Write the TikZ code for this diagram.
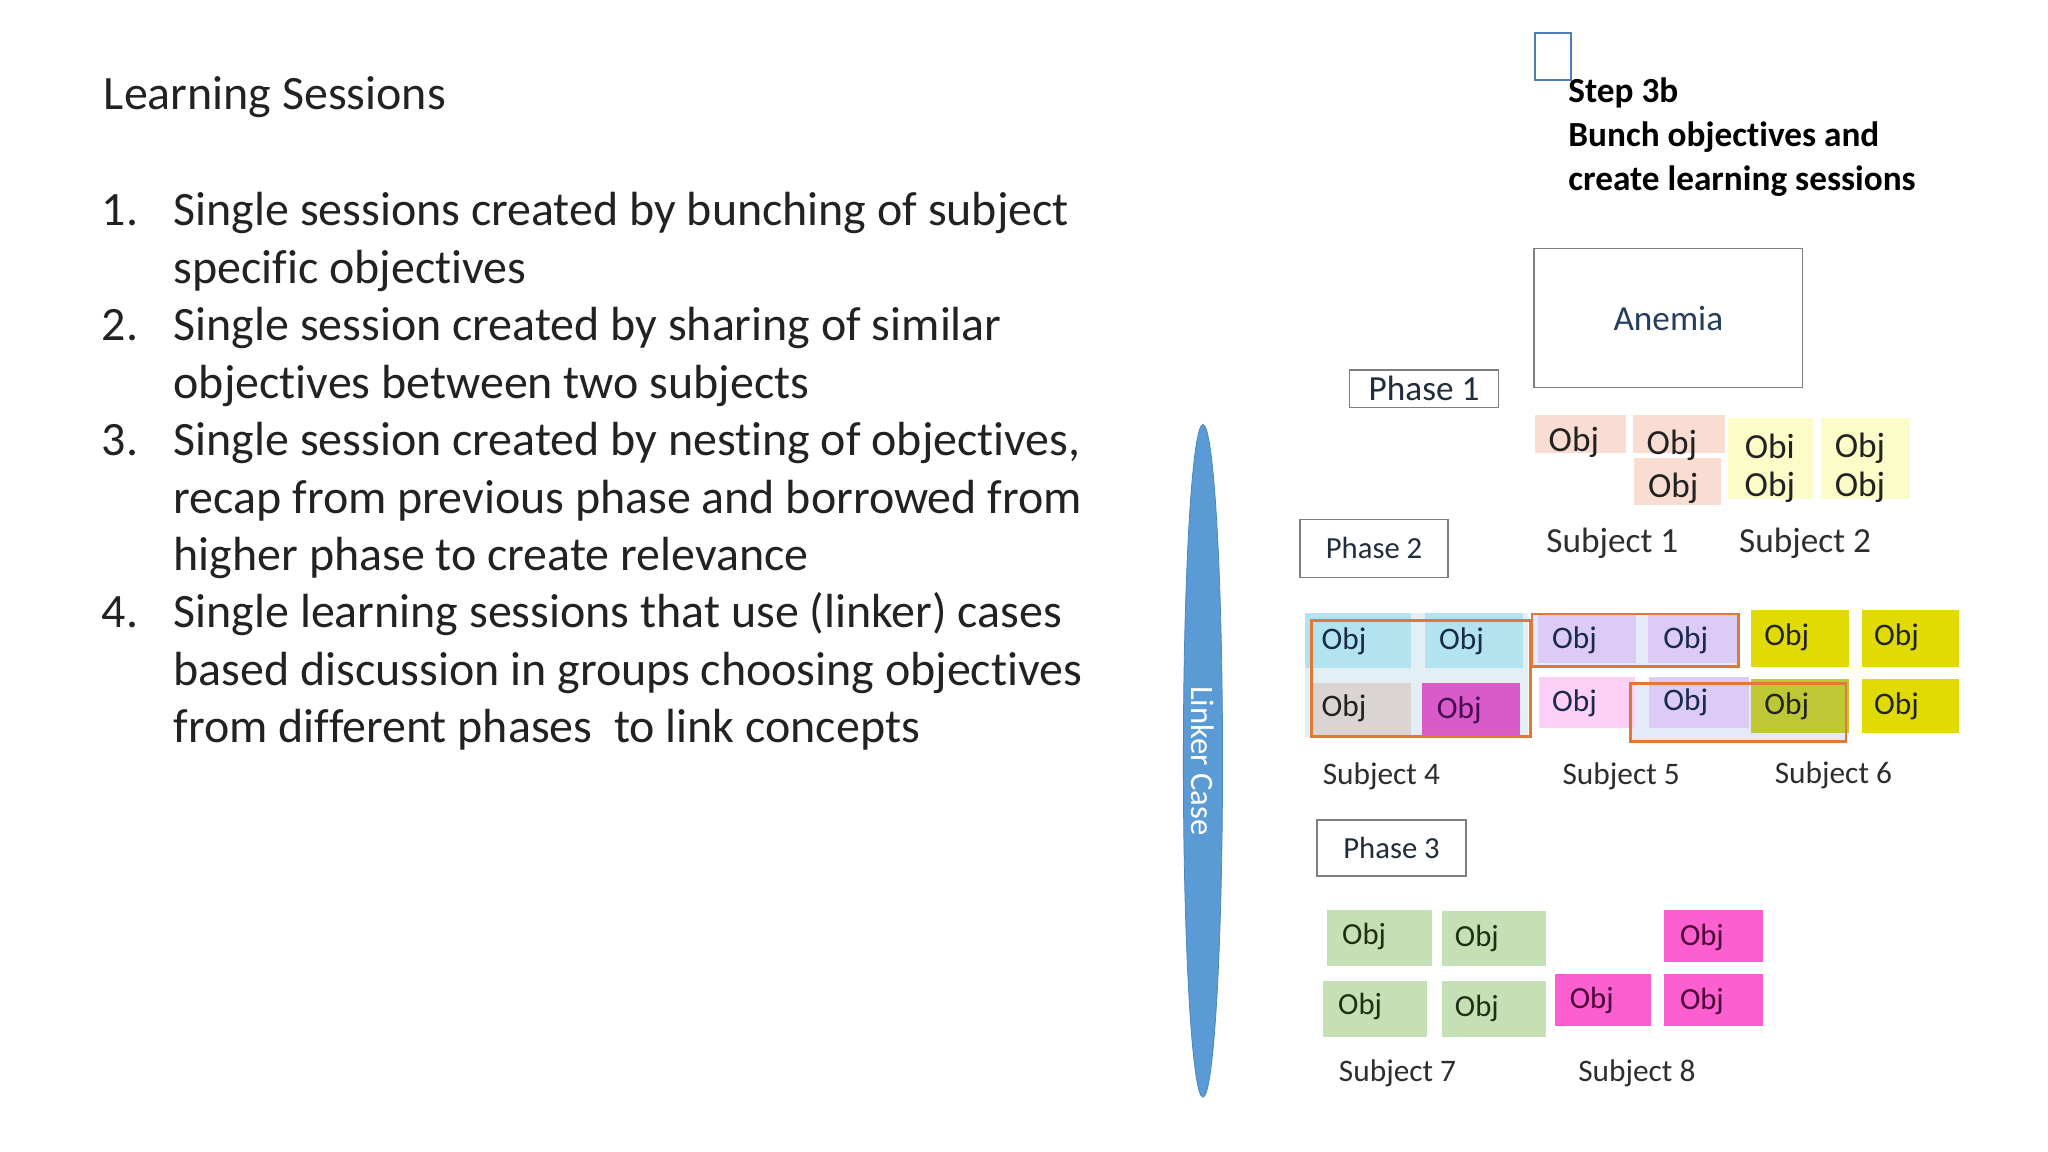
\documentclass[tikz,border=0pt]{standalone}
\usepackage{fontspec}
\setmainfont[Ligatures={TeX,NoCommon}]{Carlito}
\usetikzlibrary{shapes.geometric,fit}
\definecolor{maintext}{HTML}{222222}
\definecolor{labeltext}{HTML}{2E2E2E}
\definecolor{phasetext}{HTML}{1F2D3D}
\definecolor{anemiatext}{HTML}{263D5C}
\definecolor{boxgray}{HTML}{7F7F7F}
\definecolor{sqblue}{HTML}{4F7DB5}
\definecolor{peach}{HTML}{FADDD2}
\definecolor{lyellow}{HTML}{FCFCC8}
\definecolor{cyancell}{HTML}{B2E3EE}
\definecolor{graycell}{HTML}{DAD5D3}
\definecolor{magcell}{HTML}{D95BC9}
\definecolor{lavcell}{HTML}{DCCBF5}
\definecolor{pinkcell}{HTML}{FDD0F7}
\definecolor{yelcell}{HTML}{E0DB05}
\definecolor{olivecell}{HTML}{BDC834}
\definecolor{greencell}{HTML}{C5E0B4}
\definecolor{hotpink}{HTML}{FC5FD0}
\definecolor{orangeline}{HTML}{E07838}
\definecolor{paleblue}{HTML}{E2F0F6}
\definecolor{palelav}{HTML}{E6EAF8}
\definecolor{linkerblue}{HTML}{5B9BD5}
\definecolor{linkeredge}{HTML}{4A86C0}
\definecolor{navytext}{HTML}{1A2A4A}
\definecolor{purpletext}{HTML}{4A0A50}
\definecolor{darkgreen}{HTML}{1F2F14}
\definecolor{pinktext}{HTML}{4A0034}
\tikzset{
  txt/.style={inner sep=0pt, outer sep=0pt},
  titletxt/.style={txt, anchor=base west, font=\fontsize{36.7}{44}\selectfont, text=maintext},
  listtxt/.style={txt, anchor=base west, font=\fontsize{36.7}{44}\selectfont, text=maintext},
  steptxt/.style={txt, anchor=base west, font=\fontsize{27}{33}\selectfont\bfseries, text=black},
  phasebox/.style={draw=boxgray, line width=1.1pt, fill=white, inner sep=0pt, text=phasetext},
  cell/.style={inner sep=0pt, outer sep=0pt, draw=none},
  objone/.style={txt, font=\fontsize{27}{30}\selectfont, text=maintext},
  objtwo/.style={txt, font=\fontsize{24}{28}\selectfont},
  objthree/.style={txt, font=\fontsize{23.5}{28}\selectfont},
  subjone/.style={txt, font=\fontsize{27}{30}\selectfont, text=labeltext},
  subjtwo/.style={txt, font=\fontsize{24}{28}\selectfont, text=labeltext},
  session/.style={draw=orangeline, line width=2.4pt, inner sep=0pt, fill=none},
}
\newcommand\cellbox[6]{\node[cell, fill=#6, fit={(#2,#3) (#4,#5)}] (#1) {};}
\begin{document}
\begin{tikzpicture}[x=1pt,y=-1pt]
\useasboundingbox (0,0) rectangle (1568,882);
\fill[white] (0,0) rectangle (1568,882);

% ---------- left text ----------
\node[titletxt] (title) at (79.6,84.2) {Learning Sessions};
\node[listtxt] (n1) at (78,172.8) {1.};
\node[listtxt] (l1a) at (133,172.8) {Single sessions created by bunching of subject};
\node[listtxt] (l1b) at (133,216.8) {specific objectives};
\node[listtxt] (n2) at (78,260.8) {2.};
\node[listtxt] (l2a) at (133,260.8) {Single session created by sharing of similar};
\node[listtxt] (l2b) at (133,304.8) {objectives between two subjects};
\node[listtxt] (n3) at (78,348.8) {3.};
\node[listtxt] (l3a) at (133,348.8) {Single session created by nesting of objectives,};
\node[listtxt] (l3b) at (133,392.8) {recap from previous phase and borrowed from};
\node[listtxt] (l3c) at (133,436.8) {higher phase to create relevance};
\node[listtxt] (n4) at (78,480.8) {4.};
\node[listtxt] (l4a) at (133,480.8) {Single learning sessions that use (linker) cases};
\node[listtxt] (l4b) at (133,524.8) {based discussion in groups choosing objectives};
\node[listtxt] (l4c) at (133,568.8) {from different phases\ \ to link concepts};

% ---------- step header ----------
\node[draw=sqblue, line width=1.3pt, inner sep=0pt, fit={(1175.3,25.5) (1202.7,61.3)}] (sq) {};
\node[steptxt] (s1) at (1200.8,78.6) {Step 3b};
\node[steptxt] (s2) at (1200.8,112.3) {Bunch objectives and};
\node[steptxt] (s3) at (1200.8,146) {create learning sessions};

% ---------- linker case ----------
\node[ellipse, fill=linkerblue, draw=linkeredge, line width=0.6pt, minimum width=515pt, minimum height=30pt, inner sep=0pt, rotate=-90, text=white, font=\fontsize{25}{28}\selectfont] (linker) at (921,582.5) {Linker Case};

% ---------- boxes ----------
\node[draw=boxgray, line width=1.1pt, fill=white, minimum width=205.4pt, minimum height=106.7pt, inner sep=0pt, text=anemiatext, font=\fontsize{27}{30}\selectfont] (anemia) at (1277.3,243.5) {Anemia};
\node[phasebox, minimum width=114.3pt, minimum height=28.8pt, font=\fontsize{27}{30}\selectfont] (ph1) at (1090.3,297.7) {Phase 1};
\node[phasebox, minimum width=113.1pt, minimum height=44.3pt, font=\fontsize{23.5}{28}\selectfont] (ph2) at (1052,419.9) {Phase 2};
\node[phasebox, minimum width=114.3pt, minimum height=42.8pt, font=\fontsize{23.5}{28}\selectfont] (ph3) at (1065.4,649.3) {Phase 3};

% ---------- phase 1 objectives ----------
\cellbox{a1}{1175}{318}{1245}{347}{peach}
\cellbox{a2}{1250}{318}{1321}{347}{peach}
\cellbox{a3}{1251}{351}{1318}{387}{peach}
\cellbox{b1}{1323}{320}{1388}{357}{lyellow}
\cellbox{b2}{1394}{320}{1462}{357}{lyellow}
\cellbox{b3}{1323}{357}{1388}{382}{lyellow}
\cellbox{b4}{1394}{357}{1462}{382}{lyellow}
\node[objone] (a1t) at (1205,339) {Obj};
\node[objone] (a2t) at (1280,341) {Obj};
\node[objone] (a3t) at (1281,374) {Obj};
\node[objone] (b1t) at (1355,342) {Obi};
\node[objone] (b2t) at (1424,343) {Obj};
\node[objone] (b3t) at (1355,373) {Obj};
\node[objone] (b4t) at (1424,373) {Obj};
\node[subjone] (sub1) at (1234.4,416) {Subject 1};
\node[subjone] (sub2) at (1382,416) {Subject 2};

% ---------- phase 2 objectives ----------
\fill[paleblue] (999.5,469) rectangle (1170,564);
\fill[palelav] (1173,470) rectangle (1331,511);
\fill[palelav] (1248.5,523) rectangle (1413,568);
\cellbox{c1}{999.5}{469.1}{1080.5}{511.7}{cyancell}
\cellbox{c2}{1090.9}{469.1}{1166.4}{511.7}{cyancell}
\cellbox{c3}{1004}{523.2}{1080.5}{562.8}{graycell}
\cellbox{c4}{1088.8}{523.2}{1163.6}{562.8}{magcell}
\cellbox{d1}{1177.4}{470.9}{1252.9}{507.9}{lavcell}
\cellbox{d2}{1261.5}{470.9}{1330.2}{507.9}{lavcell}
\cellbox{d3}{1178}{518.1}{1251.5}{557.7}{pinkcell}
\cellbox{d4}{1262.6}{518.1}{1338.7}{557.7}{lavcell}
\cellbox{e1}{1340.5}{467}{1416}{510.5}{yelcell}
\cellbox{e2}{1425.3}{467}{1500.2}{510.5}{yelcell}
\cellbox{e3}{1340.5}{519.9}{1416}{561.5}{olivecell}
\cellbox{e4}{1425.3}{519.9}{1500.2}{561.5}{yelcell}
\node[objtwo, text=navytext] (c1t) at (1029,491) {Obj};
\node[objtwo, text=navytext] (c2t) at (1119,491) {Obj};
\node[objtwo, text=maintext] (c3t) at (1029,542) {Obj};
\node[objtwo, text=purpletext] (c4t) at (1117.3,544) {Obj};
\node[objtwo, text=navytext] (d1t) at (1205.5,490) {Obj};
\node[objtwo, text=navytext] (d2t) at (1290.7,490.5) {Obj};
\node[objtwo, text=navytext] (d3t) at (1205.5,538.5) {Obj};
\node[objtwo, text=navytext] (d4t) at (1290.7,537.5) {Obj};
\node[objtwo, text=maintext] (e1t) at (1368,488) {Obj};
\node[objtwo, text=maintext] (e2t) at (1452,488) {Obj};
\node[objtwo, text=maintext] (e3t) at (1368,541) {Obj};
\node[objtwo, text=maintext] (e4t) at (1452,541) {Obj};
\node[session, fit={(1004,475.2) (1172,564)}] (ses1) {};
\node[session, line width=2pt, fit={(1172.9,470.1) (1330.9,510.5)}] (ses2) {};
\node[session, line width=2pt, fit={(1248.5,523.2) (1413.3,567.9)}] (ses3) {};
\node[subjtwo] (sub4) at (1057.6,594.7) {Subject 4};
\node[subjtwo] (sub5) at (1241.2,594.7) {Subject 5};
\node[subjtwo] (sub6) at (1403.7,593.4) {Subject 6};

% ---------- phase 3 objectives ----------
\cellbox{g1}{1015.8}{696.8}{1096.2}{739.4}{greencell}
\cellbox{g2}{1103.9}{697.5}{1183.8}{739.4}{greencell}
\cellbox{g3}{1012.8}{750.9}{1092.9}{793.8}{greencell}
\cellbox{g4}{1103.9}{750.9}{1183.8}{793.8}{greencell}
\cellbox{h1}{1274.1}{696.8}{1349.7}{736.3}{hotpink}
\cellbox{h2}{1190.2}{745.8}{1264.4}{785.6}{hotpink}
\cellbox{h3}{1274.1}{745.8}{1349.7}{785.6}{hotpink}
\node[objthree, text=darkgreen] (g1t) at (1044.4,717.2) {Obj};
\node[objthree, text=darkgreen] (g2t) at (1130.7,718.4) {Obj};
\node[objthree, text=darkgreen] (g3t) at (1041.3,770.8) {Obj};
\node[objthree, text=darkgreen] (g4t) at (1130.7,772) {Obj};
\node[objthree, text=pinktext] (h1t) at (1303,717.6) {Obj};
\node[objthree, text=pinktext] (h2t) at (1218.7,765.7) {Obj};
\node[objthree, text=pinktext] (h3t) at (1303,767) {Obj};
\node[subjtwo] (sub7) at (1070,821.8) {Subject 7};
\node[subjtwo] (sub8) at (1253.2,821.8) {Subject 8};
\end{tikzpicture}
\end{document}
